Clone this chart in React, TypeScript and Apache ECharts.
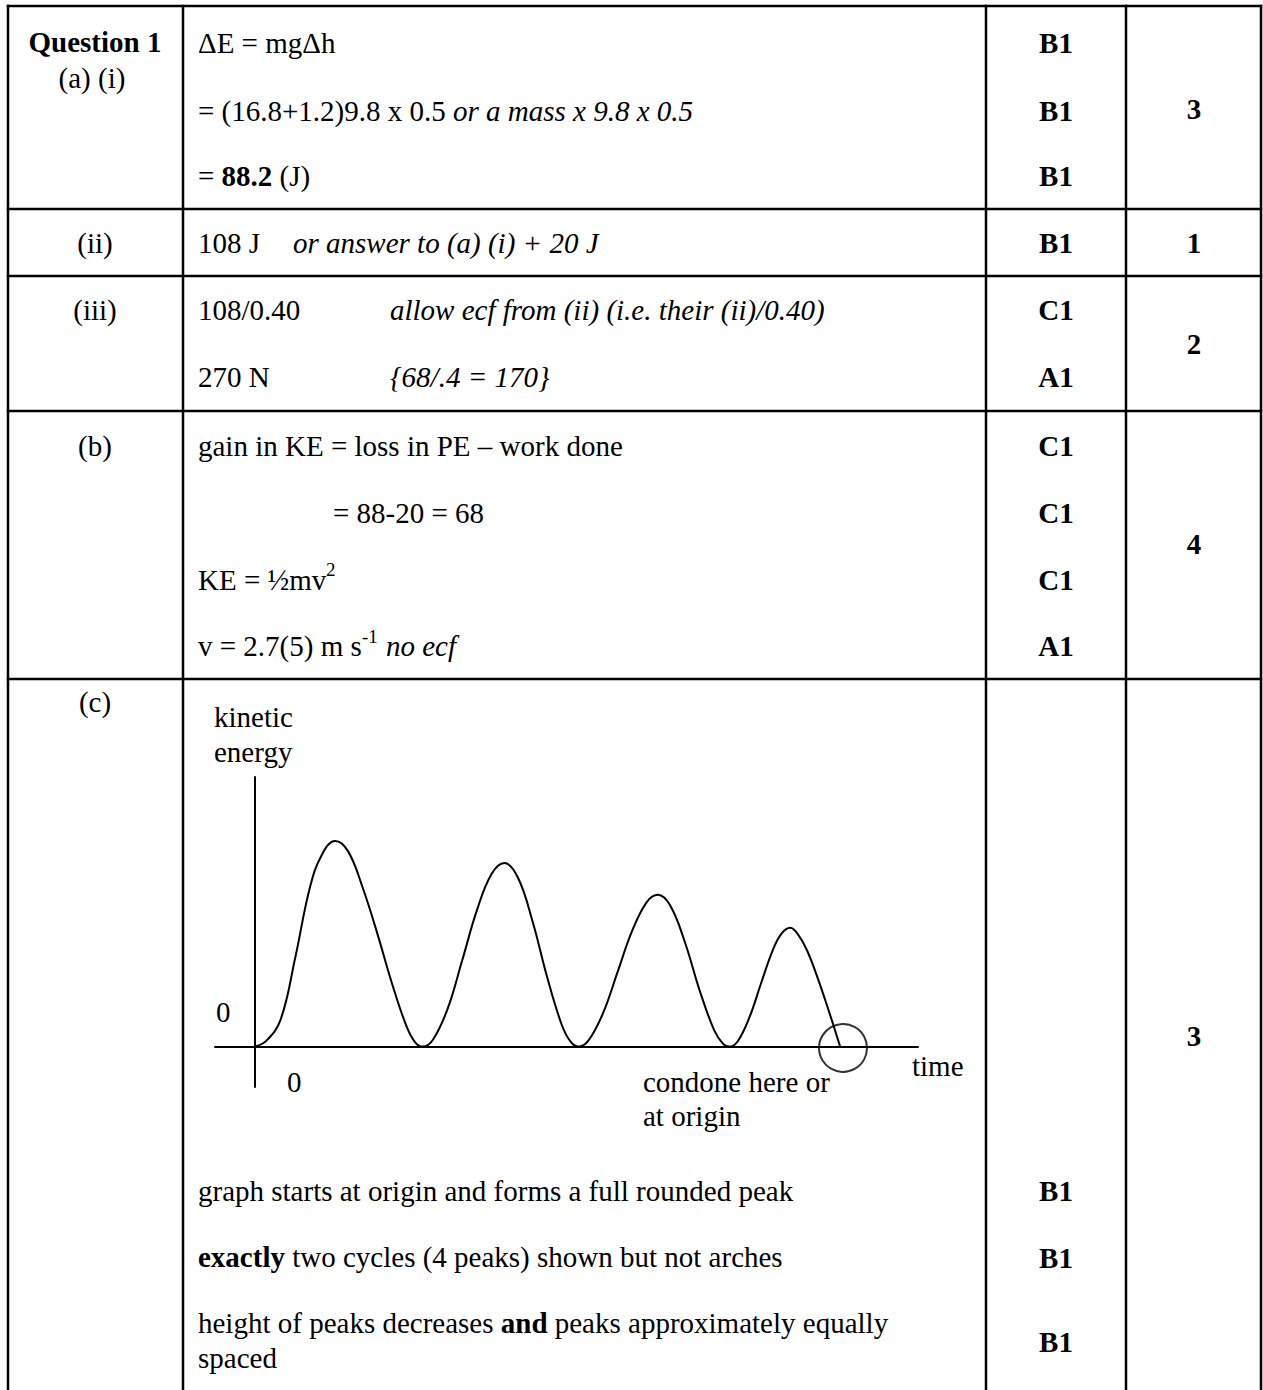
import React, { useEffect, useRef } from "react";
import * as echarts from "echarts";

// Sketched kinetic energy / time curve
const keTime = [
  0, 0.2, 0.45, 0.7, 0.95, 1.15, 1.38, 1.6, 1.85, 2.1, 2.35, 2.6, 2.75, 2.88,
  3.05, 3.3, 3.55, 3.8, 4.05, 4.27, 4.5, 4.75, 5.0, 5.25, 5.4, 5.53,
  5.7, 5.95, 6.2, 6.45, 6.7, 6.89, 7.1, 7.35, 7.6, 7.85, 8.0, 8.11,
  8.25, 8.45, 8.65, 8.85, 9.0, 9.15, 9.3, 9.45, 9.6, 9.75, 9.9, 10.0,
];
const keValue = [
  0, 0.2, 1.0, 3.3, 5.9, 7.1, 7.63, 7.25, 5.9, 4.2, 2.35, 0.75, 0.15, 0,
  0.25, 1.4, 3.2, 5.05, 6.4, 6.81, 6.27, 4.65, 2.57, 0.8, 0.18, 0,
  0.21, 1.22, 2.75, 4.29, 5.36, 5.63, 5.23, 3.88, 2.1, 0.61, 0.11, 0,
  0.19, 1.07, 2.34, 3.57, 4.19, 4.41, 4.1, 3.5, 2.65, 1.7, 0.7, 0,
];
const condonePoint = [10.05, -0.05];

// Table text
const partLabels = ["(ii)", "(iii)", "(b)", "(c)"];
const marksA = ["B1", "B1", "B1"];
const marksIII = ["C1", "A1"];
const marksB = ["C1", "C1", "C1", "A1"];
const marksC = ["B1", "B1", "B1"];
const totals = ["3", "1", "2", "4", "3"];

const FF = "'Liberation Serif', 'Times New Roman', serif";
const FS = 29;

function txt(x: number, y: number, text: string, opt: any = {}) {
  const align = opt.align || "left";
  return {
    type: "text",
    silent: true,
    style: {
      x,
      y,
      text,
      fill: "#000",
      fontFamily: FF,
      fontSize: opt.fontSize || FS,
      fontWeight: opt.bold ? "bold" : "normal",
      fontStyle: opt.italic ? "italic" : "normal",
      align,
      verticalAlign: "middle",
      textAlign: align,
      textVerticalAlign: "middle",
      rich: opt.rich,
    },
  };
}

const richStyles = {
  r: { fontFamily: FF, fontSize: FS, fill: "#000" },
  b: { fontFamily: FF, fontSize: FS, fontWeight: "bold", fill: "#000" },
  i: { fontFamily: FF, fontSize: FS, fontStyle: "italic", fill: "#000" },
};

function rich(x: number, y: number, text: string) {
  return txt(x, y, text, { rich: richStyles });
}

function hline(y: number, x1: number, x2: number) {
  return {
    type: "line",
    silent: true,
    shape: { x1, y1: y, x2, y2: y },
    style: { stroke: "#000", lineWidth: 2.5 },
  };
}
function vline(x: number, y1: number, y2: number) {
  return {
    type: "line",
    silent: true,
    shape: { x1: x, y1, x2: x, y2 },
    style: { stroke: "#000", lineWidth: 2.5 },
  };
}

export default function App() {
  const ref = useRef<HTMLDivElement>(null);

  useEffect(() => {
    if (!ref.current) return;
    const chart = echarts.init(ref.current, undefined, { renderer: "svg" });

    const L = 8, C1 = 183, C2 = 986, C3 = 1126, R = 1261;
    const rowsY = [6, 209, 276, 411, 679];
    const BOTTOM = 1400;
    const col1 = 95, tx = 198, col3 = 1056, col4 = 1194;

    const graphics: any[] = [];
    // grid lines
    rowsY.forEach((y) => graphics.push(hline(y, L - 1.25, R + 1.25)));
    [L, C1, C2, C3, R].forEach((x) => graphics.push(vline(x, rowsY[0] - 1.25, BOTTOM)));

    // column 1 labels
    graphics.push(txt(col1, 42, "Question 1", { bold: true, align: "center" }));
    graphics.push(txt(92, 78, "(a) (i)", { align: "center" }));
    const partY = [243, 310, 446, 702];
    partLabels.forEach((p, i) => graphics.push(txt(col1, partY[i], p, { align: "center" })));

    // column 2 texts
    graphics.push(txt(tx, 43, "ΔE = mgΔh"));
    graphics.push(rich(tx, 111, "{r|= (16.8+1.2)9.8 x 0.5 }{i|or a mass x 9.8 x 0.5}"));
    graphics.push(rich(tx, 176, "{r|= }{b|88.2}{r| (J)}"));
    graphics.push(txt(tx, 243, "108 J"));
    graphics.push(txt(293, 243, "or answer to (a) (i) + 20 J", { italic: true }));
    graphics.push(txt(tx, 310, "108/0.40"));
    graphics.push(txt(390, 310, "allow ecf from (ii) (i.e. their (ii)/0.40)", { italic: true }));
    graphics.push(txt(tx, 377, "270 N"));
    graphics.push(txt(390, 377, "{68/.4 = 170}", { italic: true }));
    graphics.push(txt(tx, 446, "gain in KE = loss in PE – work done"));
    graphics.push(txt(333, 513, "= 88-20 = 68"));
    graphics.push(txt(tx, 580, "KE = ½mv"));
    graphics.push(txt(326, 569, "2", { fontSize: 19 }));
    graphics.push(txt(tx, 646, "v = 2.7(5) m s"));
    graphics.push(txt(362, 636, "-1", { fontSize: 19 }));
    graphics.push(txt(386, 646, "no ecf", { italic: true }));

    // graph labels
    graphics.push(txt(214, 717, "kinetic"));
    graphics.push(txt(214, 752, "energy"));
    graphics.push(txt(216, 1012, "0"));
    graphics.push(txt(287, 1082, "0"));
    graphics.push(txt(912, 1066, "time"));
    graphics.push(txt(643, 1082, "condone here or"));
    graphics.push(txt(643, 1116, "at origin"));

    graphics.push(txt(tx, 1191, "graph starts at origin and forms a full rounded peak"));
    graphics.push(rich(tx, 1257, "{b|exactly}{r| two cycles (4 peaks) shown but not arches}"));
    graphics.push(rich(tx, 1323, "{r|height of peaks decreases }{b|and}{r| peaks approximately equally}"));
    graphics.push(txt(tx, 1358, "spaced"));

    // column 3 marks
    const markGroups: [string[], number[]][] = [
      [marksA, [43, 111, 176]],
      [["B1"], [243]],
      [marksIII, [310, 377]],
      [marksB, [446, 513, 580, 646]],
      [marksC, [1191, 1258, 1342]],
    ];
    markGroups.forEach(([arr, ys]) =>
      arr.forEach((m, i) => graphics.push(txt(col3, ys[i], m, { bold: true, align: "center" })))
    );

    // column 4 totals
    const totY = [109, 243, 343.5, 544, 1035.5];
    totals.forEach((t, i) => graphics.push(txt(col4, totY[i], t, { bold: true, align: "center" })));

    const axisCommon = {
      type: "value",
      axisLine: { show: true, onZero: true, lineStyle: { color: "#000", width: 2 } },
      axisTick: { show: false },
      axisLabel: { show: false },
      splitLine: { show: false },
    };

    chart.setOption({
      animation: false,
      backgroundColor: "#fff",
      grid: { left: 215, top: 777, width: 703, height: 310, containLabel: false },
      xAxis: { ...axisCommon, min: -0.67, max: 11.33 },
      yAxis: { ...axisCommon, min: -1.5, max: 10 },
      series: [
        {
          type: "line",
          data: keTime.map((t, i) => [t, keValue[i]]),
          smooth: 0.4,
          showSymbol: false,
          lineStyle: { color: "#000", width: 2 },
          z: 3,
        },
        {
          type: "scatter",
          data: [condonePoint],
          symbol: "circle",
          symbolSize: 48,
          itemStyle: { color: "rgba(0,0,0,0)", borderColor: "#000", borderWidth: 2 },
          z: 4,
        },
      ],
      graphic: graphics,
    });

    return () => chart.dispose();
  }, []);

  return (
    <div
      ref={ref}
      style={{ position: "absolute", left: 0, top: 0, width: 1263, height: 1390, background: "#fff" }}
    />
  );
}
